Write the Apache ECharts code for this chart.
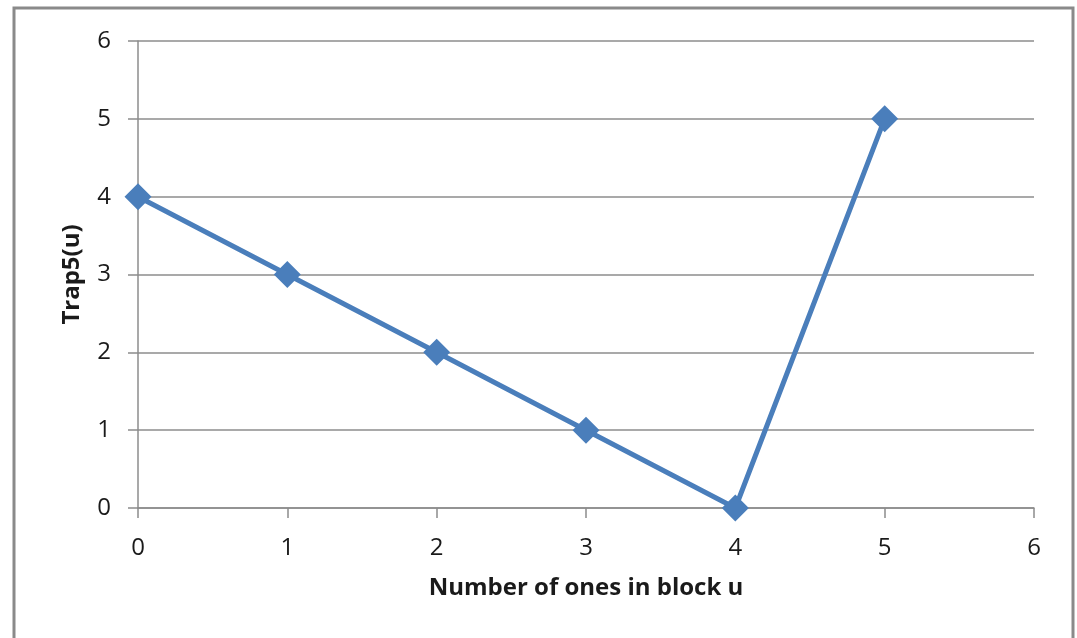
<!DOCTYPE html>
<html>
<head>
<meta charset="utf-8">
<script src="https://cdn.jsdelivr.net/npm/echarts@6/dist/echarts.min.js"></script>
<style>
  html, body { margin: 0; padding: 0; background: #fff; }
  #chart { width: 1077px; height: 638px; }
</style>
</head>
<body>
<div id="chart"></div>
<script>
// Trap5 deceptive function: value by number of ones in a 5-bit block
const onesCount = [0, 1, 2, 3, 4, 5];
const trapValues = [4, 3, 2, 1, 0, 5];
const xTicks = [0, 1, 2, 3, 4, 5, 6];
const yTicks = [0, 1, 2, 3, 4, 5, 6];

const points = onesCount.map((x, i) => [x, trapValues[i]]);
const font = '"Open Sans", "Liberation Sans", sans-serif';
const gridGray = '#8c8c8c';

const chart = echarts.init(document.getElementById('chart'), null, { renderer: 'canvas' });
chart.setOption({
  backgroundColor: '#ffffff',
  animation: false,
  graphic: [{
    type: 'rect',
    z: -1,
    shape: { x: 14, y: 8, width: 1059, height: 700 },
    style: { fill: '#ffffff', stroke: '#8a8a8a', lineWidth: 3 }
  }],
  grid: { left: 138, right: 43, top: 41, bottom: 130 },
  xAxis: {
    type: 'value',
    min: xTicks[0],
    max: xTicks[xTicks.length - 1],
    interval: 1,
    name: 'Number of ones in block u',
    nameLocation: 'middle',
    nameGap: 68,
    nameTextStyle: { fontFamily: font, fontSize: 24, fontWeight: 'bold', color: '#1a1a1a' },
    axisLine: { show: true, lineStyle: { color: gridGray, width: 1.5 } },
    axisTick: { show: true, length: 10, lineStyle: { color: gridGray, width: 1.5 } },
    axisLabel: { fontFamily: font, fontSize: 24, color: '#1a1a1a', margin: 28 },
    splitLine: { show: false }
  },
  yAxis: {
    type: 'value',
    min: yTicks[0],
    max: yTicks[yTicks.length - 1],
    interval: 1,
    name: 'Trap5(u)',
    nameLocation: 'middle',
    nameGap: 54,
    nameRotate: 90,
    nameTextStyle: { fontFamily: font, fontSize: 24, fontWeight: 'bold', color: '#1a1a1a' },
    axisLine: { show: true, lineStyle: { color: gridGray, width: 1.5 } },
    axisTick: { show: true, inside: false, length: 10, lineStyle: { color: gridGray, width: 1.5 } },
    axisLabel: { fontFamily: font, fontSize: 24, color: '#1a1a1a', margin: 27 },
    splitLine: { show: true, lineStyle: { color: gridGray, width: 1.5 } }
  },
  series: [{
    type: 'line',
    data: points,
    symbol: 'diamond',
    symbolSize: 27,
    lineStyle: { color: '#4a7ebb', width: 5 },
    itemStyle: { color: '#4a7ebb' }
  }]
});
</script>
</body>
</html>
